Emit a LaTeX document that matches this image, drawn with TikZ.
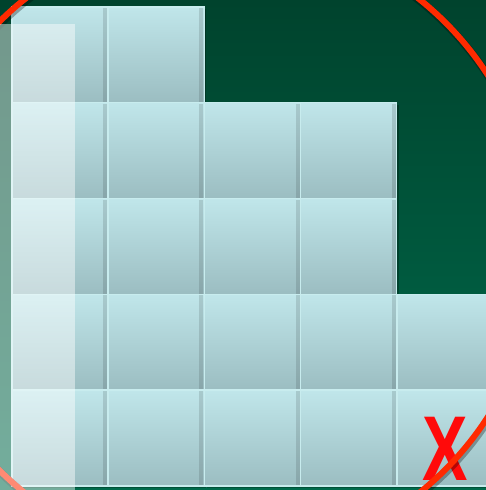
\documentclass[tikz,border=0pt]{standalone}
\usepackage{fontspec}
\setmainfont{Liberation Sans}
\usetikzlibrary{calc, positioning}
\definecolor{cgreentop}{HTML}{00432D}
\definecolor{cgreenbot}{HTML}{006B4C}
\definecolor{ctiletop}{HTML}{C0E6EA}
\definecolor{ctilebot}{HTML}{9BBDC1}
\definecolor{ctileedge}{HTML}{C8ECEE}
\definecolor{cring}{HTML}{FF2A00}
\definecolor{cmark}{HTML}{FF0A0A}

\begin{document}
\begin{tikzpicture}[x=1pt, y=-1pt,
    tile/.style={top color=ctiletop, bottom color=ctilebot, draw=ctileedge, line width=1.4pt},
    tileshade/.style={fill=black, opacity=0.12}]
    \useasboundingbox (0,0) rectangle (486,490);
    \begin{scope}
    \clip (0,0) rectangle (486,490);
    \shade[top color=cgreentop, bottom color=cgreenbot] (0,0) rectangle (486,490);
    % rows of tiles, last column index per row
    \foreach \r/\n in {0/1, 1/3, 2/3, 3/4, 4/4} {
        \foreach \c in {0,...,\n} {
            \fill[black, opacity=0.25] ($(12,7)+(96.25*\c,95.75*\r)+(2,2)$) rectangle ++(96,96);
            \path[tile] ($(12,7)+(96.25*\c,95.75*\r)$) rectangle ++(96,96);
            \fill[tileshade] ($(12,7)+(96.25*\c,95.75*\r)+(91,1)$) rectangle ++(4,94);
        }
    }
    \end{scope}
    \node (cross) [font=\fontsize{92}{92}\selectfont\bfseries, text=cmark, inner sep=0pt, xscale=0.74] at (445,449) {X};
    \begin{scope}
    \clip (0,0) rectangle (486,490);
    \draw[black, opacity=0.3, line width=8pt] (223,248) circle[radius=316];
    \draw[cring, line width=6pt] (222,246) circle[radius=316];
    \fill[white, opacity=0.45] (0,24) rectangle (75,490);
    \end{scope}
\end{tikzpicture}
\end{document}
